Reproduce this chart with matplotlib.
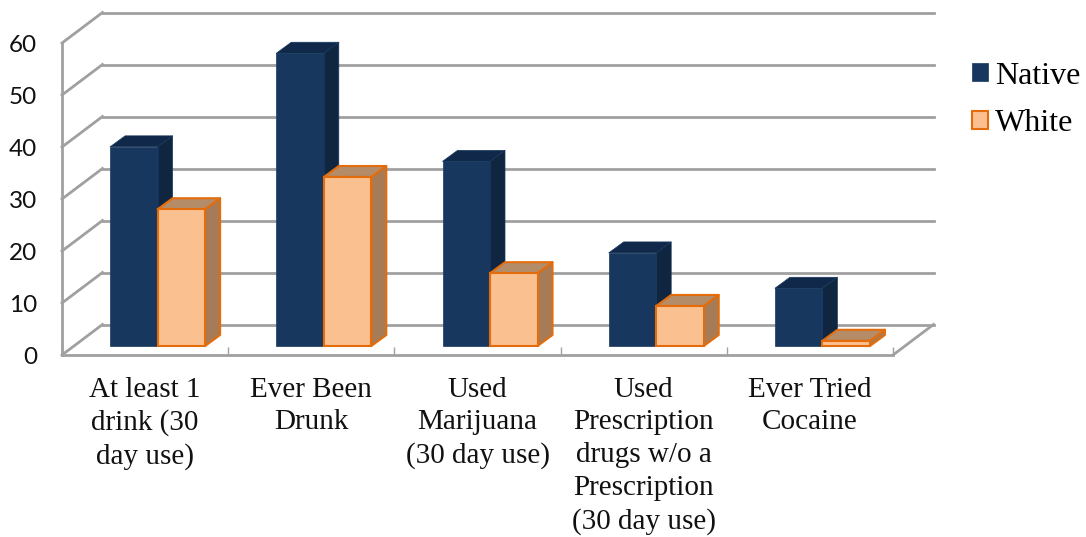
import matplotlib
matplotlib.use("Agg")
import matplotlib.pyplot as plt
from matplotlib.patches import Polygon, Patch

categories = ["At least 1\ndrink (30\nday use)", "Ever Been\nDrunk",
              "Used\nMarijuana\n(30 day use)",
              "Used\nPrescription\ndrugs w/o a\nPrescription\n(30 day use)",
              "Ever Tried\nCocaine"]
native = [38.3, 56.3, 35.5, 17.9, 11.1]
white = [26.3, 32.5, 14.0, 7.7, 1.0]
y_ticks = [0, 10, 20, 30, 40, 50, 60]

W, H = 1086, 537
GRID = "#A0A0A0"

fig = plt.figure(figsize=(W / 100, H / 100), dpi=100)
# front plane of the 3d box: x 62-893 px, y 355-43 px
ax = fig.add_axes([62 / W, 1 - 355 / H, (893 - 62) / W, (355 - 43) / H])
ax.set_xlim(0, 5)
ax.set_ylim(0, 60)
ax.patch.set_visible(False)

# pixels to data units for the fake depth
px_x = 5 / (893 - 62)
px_y = 60 / (355 - 43)
wall_dx, wall_dy = 40.5 * px_x, 30.5 * px_y
bar_dx, bar_dy = 15 * px_x, 11 * px_y
base_dx, base_dy = 12.5 * px_x, 9 * px_y
bar_w = 47.5 * px_x


def box(left, value, face, edge, top, side, lw, z):
    x0 = left + base_dx
    x1 = x0 + bar_w
    y0 = base_dy
    y1 = y0 + value
    ax.add_patch(Polygon([(x1, y0), (x1 + bar_dx, y0 + bar_dy), (x1 + bar_dx, y1 + bar_dy), (x1, y1)],
                         fc=side, ec=edge, lw=lw, zorder=z, clip_on=False, joinstyle="round"))
    ax.add_patch(Polygon([(x0, y1), (x1, y1), (x1 + bar_dx, y1 + bar_dy), (x0 + bar_dx, y1 + bar_dy)],
                         fc=top, ec=edge, lw=lw, zorder=z, clip_on=False, joinstyle="round"))
    ax.add_patch(Polygon([(x0, y0), (x1, y0), (x1, y1), (x0, y1)],
                         fc=face, ec=edge, lw=lw, zorder=z + 0.1, clip_on=False))


# back wall gridlines and the slanted part on the left wall
for v in y_ticks:
    ax.plot([0, wall_dx], [v, v + wall_dy], color=GRID, lw=2.0, clip_on=False, zorder=1)
    ax.plot([wall_dx, 5 + wall_dx], [v + wall_dy, v + wall_dy], color=GRID, lw=2.0,
            clip_on=False, zorder=1)
ax.plot([5, 5 + wall_dx], [0, wall_dy], color=GRID, lw=2.0, clip_on=False, zorder=1)

for i in range(len(categories)):
    left = i + 0.5 - bar_w
    box(left, native[i], "#17375E", "#17375E", "#10294A", "#10253F", 0.5, 3 + i)
    box(i + 0.5, white[i], "#FAC090", "#E46C0A", "#B48C68", "#A67C58", 1.5, 3.5 + i)

for s in ["top", "right"]:
    ax.spines[s].set_visible(False)
for s in ["left", "bottom"]:
    ax.spines[s].set_color(GRID)
    ax.spines[s].set_linewidth(2.0)
    ax.spines[s].set_zorder(2)

ax.set_yticks(y_ticks)
ax.set_yticklabels(y_ticks, fontfamily="Lato", fontsize=17.5, color="#111111")
ax.tick_params(axis="y", length=0, pad=18)
ax.set_xticks(range(6))
ax.set_xticklabels([])
ax.tick_params(axis="x", which="major", direction="in", length=6, width=1, color=GRID)
ax.set_xticks([i + 0.5 for i in range(5)], minor=True)
ax.set_xticklabels(categories, minor=True, fontfamily="Liberation Serif", fontsize=21,
                   linespacing=1.34, color="#111111")
ax.tick_params(axis="x", which="minor", length=0, pad=15.5)

handles = [Patch(fc="#17375E", ec="#17375E", lw=0.5),
           Patch(fc="#FAC090", ec="#E46C0A", lw=1.5)]
fig.legend(handles, ["Native", "White"], loc="upper left", bbox_to_anchor=(972 / W, 1 - 61.5 / H),
           frameon=False, handlelength=0.5, handleheight=0.5, handletextpad=0.22,
           labelspacing=0.58, borderpad=0, borderaxespad=0,
           prop={"family": "Liberation Serif", "size": 23})

fig.savefig("out.png", dpi=100)
